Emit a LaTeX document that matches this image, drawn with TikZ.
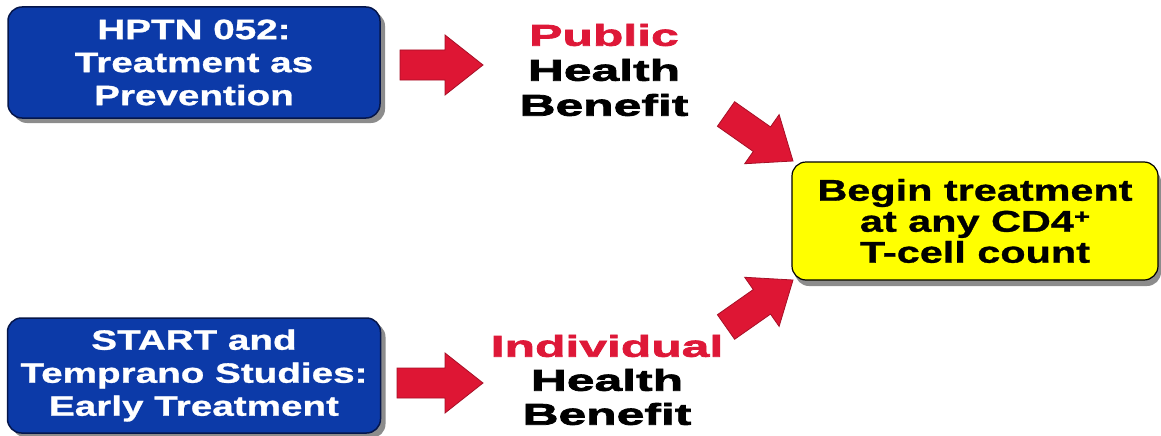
\documentclass[tikz,border=0pt]{standalone}
\usepackage{fontspec}
\setmainfont{Liberation Sans}[FakeStretch=1.38,BoldFeatures={FakeBold=1}]
\newfontfamily\lblfont{Liberation Sans}[FakeStretch=1.66,BoldFeatures={FakeBold=2.5}]
\usetikzlibrary{shadows,calc}
\definecolor{boxblue}{RGB}{12,58,168}
\definecolor{boxedge}{RGB}{5,22,75}
\definecolor{arrowred}{RGB}{222,22,52}
\definecolor{txtred}{RGB}{222,24,56}
\definecolor{boxyellow}{RGB}{255,255,0}
\tikzset{
  bluebox/.style={draw=boxedge, line width=1.5pt, fill=boxblue, rounded corners=14pt,
    text=white, align=center, inner sep=0pt,
    font=\bfseries\fontsize{28}{33}\selectfont,
    drop shadow={shadow xshift=5pt, shadow yshift=-5pt, opacity=0.45, fill=black}},
  yellowbox/.style={draw=black, line width=1.2pt, fill=boxyellow, rounded corners=14pt,
    text=black, align=center, inner sep=0pt,
    font=\bfseries\fontsize{30}{31}\selectfont,
    drop shadow={shadow xshift=3pt, shadow yshift=-6pt, opacity=0.45, fill=black}},
  benefit/.style={align=center, inner sep=0pt, text=black,
    font=\lblfont\bfseries\fontsize{30}{35}\selectfont},
  blockarrow/.style={fill=arrowred, draw=arrowred!75!black, line width=0.8pt, line join=miter}
}
\newcommand\redarrow[3]{%
  \coordinate (#3) at ($(#2)!38pt!(#1)$);
  \filldraw[blockarrow] ($(#1)!15pt!90:(#2)$) -- ($(#3)!15pt!-90:(#1)$) -- ($(#3)!30pt!-90:(#1)$)
    -- (#2) -- ($(#3)!30pt!90:(#1)$) -- ($(#3)!15pt!90:(#1)$) -- ($(#1)!15pt!-90:(#2)$) -- cycle;}
\begin{document}
\begin{tikzpicture}[x=1pt,y=-1pt]
\useasboundingbox[fill=white] (0,0) rectangle (1161,436);
% boxes
\node[bluebox, minimum width=372pt, minimum height=111pt] (hptn) at (194,62.5)
  {HPTN 052:\\Treatment as\\Prevention};
\node[bluebox, minimum width=373pt, minimum height=115pt] (start) at (194,375.5)
  {START and\\Temprano Studies:\\Early Treatment};
\node[yellowbox, minimum width=366pt, minimum height=118pt] (begin) at (975,221)
  {Begin treatment\\at any CD4\raisebox{0.28em}{\fontsize{20}{20}\selectfont+}\\T-cell count};
% labels
\node[benefit] (public) at (604,70) {\textcolor{txtred}{Public}\\Health\\Benefit};
\node[benefit, font=\lblfont\bfseries\fontsize{30}{34}\selectfont] (indiv) at (607,380)
  {\textcolor{txtred}{Individual}\\Health\\Benefit};
% arrows
\coordinate (a1s) at (400,65);  \coordinate (a1e) at (483,65);
\coordinate (a2s) at (726,114); \coordinate (a2e) at (793,161);
\coordinate (a3s) at (726,327); \coordinate (a3e) at (793,280);
\coordinate (a4s) at (397,383); \coordinate (a4e) at (483,383);
\redarrow{a1s}{a1e}{h1}
\redarrow{a2s}{a2e}{h2}
\redarrow{a3s}{a3e}{h3}
\redarrow{a4s}{a4e}{h4}
\end{tikzpicture}
\end{document}
